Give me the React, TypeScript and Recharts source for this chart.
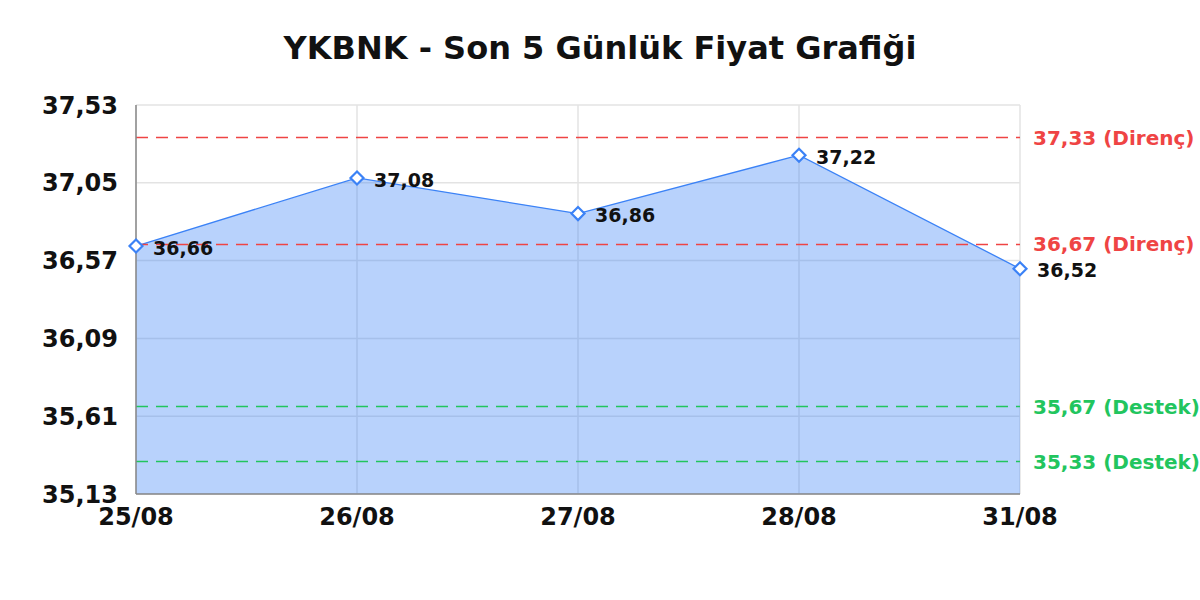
import React from 'react'
import {
  AreaChart,
  Area,
  XAxis,
  YAxis,
  CartesianGrid,
  ReferenceLine,
} from 'recharts'

const days = ['25/08', '26/08', '27/08', '28/08', '31/08']
const prices = [36.66, 37.08, 36.86, 37.22, 36.52]
const yTicks = [35.13, 35.61, 36.09, 36.57, 37.05, 37.53]
const resistance = [37.33, 36.67]
const support = [35.67, 35.33]

const data = days.map((day, i) => ({ day, price: prices[i] }))

const FONT = '"DejaVu Sans", Verdana, sans-serif'
const fmt = (v: number) => v.toFixed(2).replace('.', ',')

const Diamond = (props: any) => {
  const { cx, cy } = props
  if (cx == null || cy == null) return null
  const r = 6.5
  return (
    <polygon
      points={`${cx},${cy - r} ${cx + r},${cy} ${cx},${cy + r} ${cx - r},${cy}`}
      fill="#ffffff"
      stroke="#3b82f6"
      strokeWidth={2.2}
    />
  )
}

export default function App() {
  return (
    <div style={{ position: 'absolute', left: 0, top: 0, width: 1200, height: 600, background: '#fff' }}>
      <div
        style={{
          position: 'absolute',
          top: 27,
          left: 0,
          width: 1200,
          textAlign: 'center',
          fontFamily: FONT,
          fontWeight: 'bold',
          fontSize: 32,
          lineHeight: '42px',
          color: '#111',
        }}
      >
        YKBNK - Son 5 Günlük Fiyat Grafiği
      </div>
      <AreaChart
        width={1200}
        height={600}
        data={data}
        margin={{ top: 105, right: 180, bottom: 76, left: 0 }}
        style={{ fontFamily: FONT }}
      >
        <CartesianGrid stroke="#e3e3e3" strokeWidth={1.5} />
        <XAxis
          dataKey="day"
          height={30}
          tickLine={false}
          tickSize={0}
          tickMargin={14}
          axisLine={{ stroke: '#888', strokeWidth: 1.5 }}
          tick={{ fontSize: 24, fontWeight: 'bold', fill: '#111' }}
          interval={0}
        />
        <YAxis
          width={136}
          domain={[35.13, 37.53]}
          ticks={yTicks}
          tickFormatter={fmt}
          tickLine={false}
          tickSize={0}
          tickMargin={18}
          axisLine={{ stroke: '#888', strokeWidth: 1.5 }}
          tick={{ fontSize: 24, fontWeight: 'bold', fill: '#111' }}
          interval={0}
        />
        <Area
          type="linear"
          dataKey="price"
          stroke="#3b82f6"
          strokeWidth={1.3}
          fill="#3b82f6"
          fillOpacity={0.36}
          dot={<Diamond />}
          activeDot={false}
          isAnimationActive={false}
          label={{
            position: 'right',
            offset: 17,
            dy: 2,
            formatter: (v: any) => fmt(Number(v)),
            fontSize: 19,
            fontWeight: 'bold',
            fill: '#111',
          }}
        />
        {resistance.map((v) => (
          <ReferenceLine
            key={'r' + v}
            y={v}
            stroke="#ef4444"
            strokeWidth={1.5}
            strokeDasharray="12 8"
            label={{
              value: `${fmt(v)} (Direnç)`,
              position: 'right',
              offset: 13,
              fill: '#ef4444',
              fontSize: 20,
              fontWeight: 'bold',
            }}
          />
        ))}
        {support.map((v) => (
          <ReferenceLine
            key={'s' + v}
            y={v}
            stroke="#22c55e"
            strokeWidth={1.5}
            strokeDasharray="12 8"
            label={{
              value: `${fmt(v)} (Destek)`,
              position: 'right',
              offset: 13,
              fill: '#22c55e',
              fontSize: 20,
              fontWeight: 'bold',
            }}
          />
        ))}
      </AreaChart>
    </div>
  )
}
